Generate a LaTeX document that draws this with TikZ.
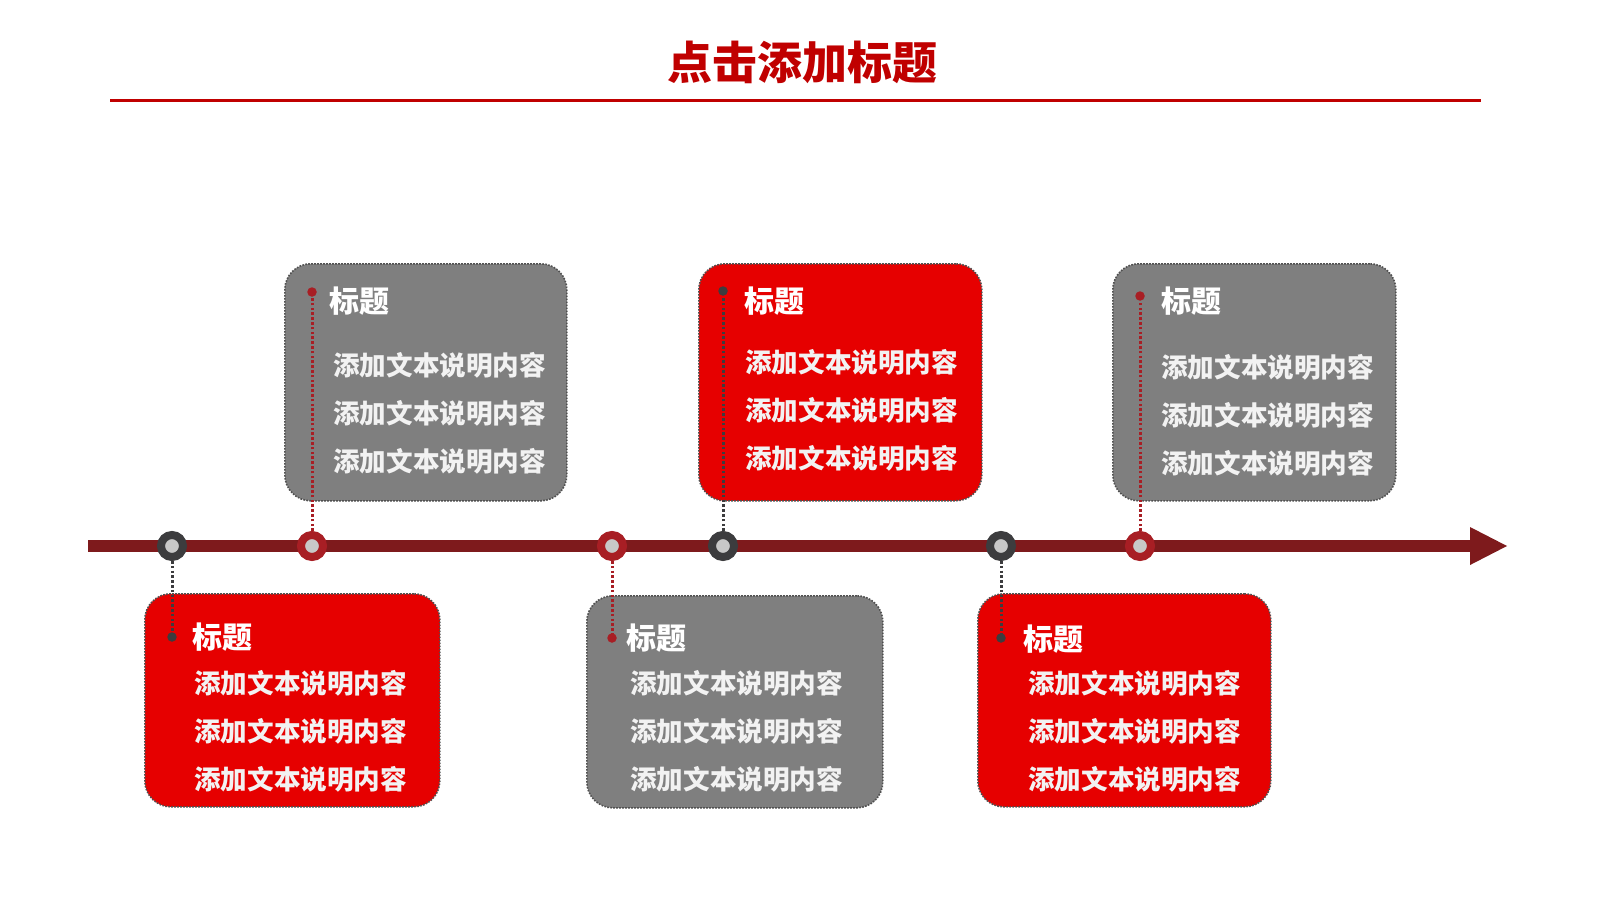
\documentclass[tikz,border=0pt]{standalone}
\usepackage{fontspec}
\newfontfamily\cjk{Noto Sans CJK SC}
\definecolor{titlered}{HTML}{C00000}
\definecolor{lined}{HTML}{7E1A1C}
\definecolor{mkred}{HTML}{A81E24}
\definecolor{mkdark}{HTML}{3C3C3E}
\definecolor{mkin}{HTML}{C8C8C8}
\definecolor{boxgray}{HTML}{7F7F7F}
\definecolor{boxred}{HTML}{E60000}
\definecolor{edge}{HTML}{505050}
\begin{document}
\begin{tikzpicture}[x=1pt,y=-1pt,
  box/.style={rectangle, rounded corners=26pt, anchor=north west, draw=edge, line width=1.6pt, dash pattern=on 1.6pt off 1.4pt},
  graybox/.style={box, fill=boxgray},
  redbox/.style={box, fill=boxred},
  marker/.style={circle, fill=mkin, line width=8pt, minimum size=22pt, inner sep=0pt},
  redmark/.style={marker, draw=mkred},
  darkmark/.style={marker, draw=mkdark},
  conn/.style={line width=3pt, dash pattern=on 2.6pt off 2.2pt},
  redconn/.style={conn, draw=mkred},
  darkconn/.style={conn, draw=mkdark},
  enddot/.style={circle, inner sep=0pt, minimum size=9.5pt},
  head/.style={anchor=west, inner sep=0pt, text=white, font=\cjk\bfseries\fontsize{30}{34}\selectfont},
  body/.style={anchor=west, inner sep=0pt, text=white!95!black, font=\cjk\bfseries\fontsize{26.6}{30}\selectfont}
]
\useasboundingbox (0,0) rectangle (1600,900);
\fill[white] (0,0) rectangle (1600,900);

% title
\node[text=titlered, font=\cjk\bfseries\fontsize{45}{50}\selectfont, inner sep=0pt] (title) at (802,62) {点击添加标题};
\coordinate (tl) at (110,100);
\coordinate (tr) at (1481,100);
\draw[titlered, line width=3pt] (tl) -- (tr);

% timeline
\coordinate (ls) at (88,546);
\coordinate (le) at (1472,546);
\draw[lined, line width=12pt] (ls) -- (le);
\fill[lined] (1470,527) -- (1507,546) -- (1470,565) -- cycle;

% boxes
\node[graybox, minimum width=282pt, minimum height=237pt] (b1) at (284,263) {};
\node[redbox,  minimum width=283pt, minimum height=237pt] (b2) at (698,263) {};
\node[graybox, minimum width=283pt, minimum height=237pt] (b3) at (1112,263) {};
\node[redbox,  minimum width=295pt, minimum height=213pt] (b4) at (144,593) {};
\node[graybox, minimum width=296pt, minimum height=212pt] (b5) at (586,595) {};
\node[redbox,  minimum width=293pt, minimum height=213pt] (b6) at (977,593) {};

% markers
\node[darkmark] (m1) at (172,546) {};
\node[redmark]  (m2) at (312,546) {};
\node[redmark]  (m3) at (612,546) {};
\node[darkmark] (m4) at (723,546) {};
\node[darkmark] (m5) at (1001,546) {};
\node[redmark]  (m6) at (1140,546) {};

% connector end dots
\node[enddot, fill=mkred]  (d1) at (312,292) {};
\node[enddot, fill=mkdark] (d2) at (723,291) {};
\node[enddot, fill=mkred]  (d3) at (1140,296) {};
\node[enddot, fill=mkdark] (d4) at (172,637) {};
\node[enddot, fill=mkred]  (d5) at (612,638) {};
\node[enddot, fill=mkdark] (d6) at (1001,638) {};

\draw[redconn]  (m2) -- (d1);
\draw[darkconn] (m4) -- (d2);
\draw[redconn]  (m6) -- (d3);
\draw[darkconn] (m1) -- (d4);
\draw[redconn]  (m3) -- (d5);
\draw[darkconn] (m5) -- (d6);

% texts box 1
\node[head] (h1) at (329,301) {标题};
\node[body] (t11) at (333,365) {添加文本说明内容};
\node[body] (t12) at (333,413) {添加文本说明内容};
\node[body] (t13) at (333,461) {添加文本说明内容};
% box 2
\node[head] (h2) at (744,301) {标题};
\node[body] (t21) at (745,362) {添加文本说明内容};
\node[body] (t22) at (745,410) {添加文本说明内容};
\node[body] (t23) at (745,458) {添加文本说明内容};
% box 3
\node[head] (h3) at (1161,301) {标题};
\node[body] (t31) at (1161,367) {添加文本说明内容};
\node[body] (t32) at (1161,415) {添加文本说明内容};
\node[body] (t33) at (1161,463) {添加文本说明内容};
% box 4
\node[head] (h4) at (192,637) {标题};
\node[body] (t41) at (194,683) {添加文本说明内容};
\node[body] (t42) at (194,731) {添加文本说明内容};
\node[body] (t43) at (194,779) {添加文本说明内容};
% box 5
\node[head] (h5) at (626,638) {标题};
\node[body] (t51) at (630,683) {添加文本说明内容};
\node[body] (t52) at (630,731) {添加文本说明内容};
\node[body] (t53) at (630,779) {添加文本说明内容};
% box 6
\node[head] (h6) at (1023,639) {标题};
\node[body] (t61) at (1028,683) {添加文本说明内容};
\node[body] (t62) at (1028,731) {添加文本说明内容};
\node[body] (t63) at (1028,779) {添加文本说明内容};
\end{tikzpicture}
\end{document}
